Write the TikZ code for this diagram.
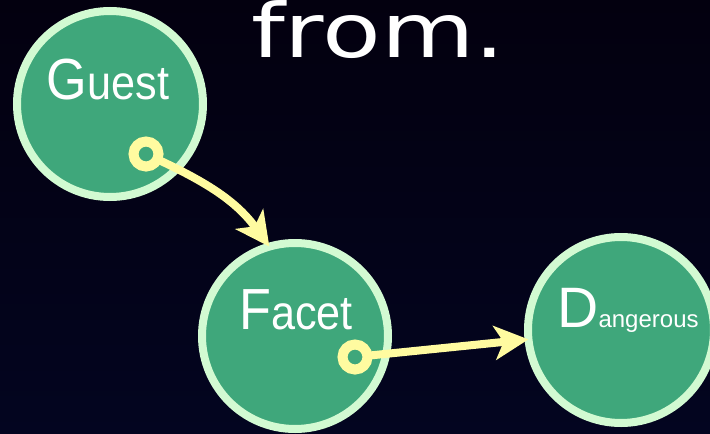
\documentclass[tikz,border=0pt]{standalone}
\usepackage{fontspec}
\setmainfont{Liberation Sans}
\newfontfamily\titlefont{DejaVu Sans}
\usetikzlibrary{arrows.meta}
\definecolor{bgtop}{HTML}{03000F}
\definecolor{bgbot}{HTML}{030520}
\definecolor{nodefill}{HTML}{3FA77B}
\definecolor{nodeedge}{HTML}{D2FAD2}
\definecolor{arrowcol}{HTML}{FFFBA0}
\tikzset{
  bubble/.style={circle, fill=nodefill, draw=nodeedge, line width=8pt, minimum size=186pt, inner sep=0pt, outer sep=0pt},
  ring/.style={circle, draw=arrowcol, line width=10pt, minimum size=25pt, inner sep=0pt, outer sep=0pt},
  link/.style={draw=arrowcol, line width=8pt, -{Stealth[length=34pt, width=34pt, inset=9pt]}},
  lbl/.style={anchor=base, inner sep=0pt, text=white}
}
\begin{document}
\begin{tikzpicture}[x=1pt, y=-1pt]
\useasboundingbox (0,0) rectangle (710,434);
\shade[top color=bgtop, bottom color=bgbot] (0,0) rectangle (710,434);
\node[anchor=base west, inner sep=0pt, text=white] (title) at (251,57)
  {\scalebox{1.28}[1]{\titlefont\fontsize{75}{75}\selectfont from.}};
\node[bubble] (G) at (110,104) {};
\node[bubble] (F) at (295,336) {};
\node[bubble] (D) at (621,330) {};
\node[lbl] (Gt) at (108,99) {\scalebox{0.9}[1]{\fontsize{58}{58}\selectfont G\fontsize{48}{48}\selectfont uest}};
\node[lbl] (Ft) at (296,329) {\scalebox{0.9}[1]{\fontsize{58}{58}\selectfont F\fontsize{48}{48}\selectfont acet}};
\node[lbl] (Dt) at (628,327) {\fontsize{57}{57}\selectfont D\fontsize{24}{24}\selectfont angerous};
\node[ring] (g1) at (146,154) {};
\node[ring] (f1) at (355,357) {};
\draw[link] (g1) to[out=-25, in=126] (F.106);
\draw[link] (f1) -- (D);
\end{tikzpicture}
\end{document}
